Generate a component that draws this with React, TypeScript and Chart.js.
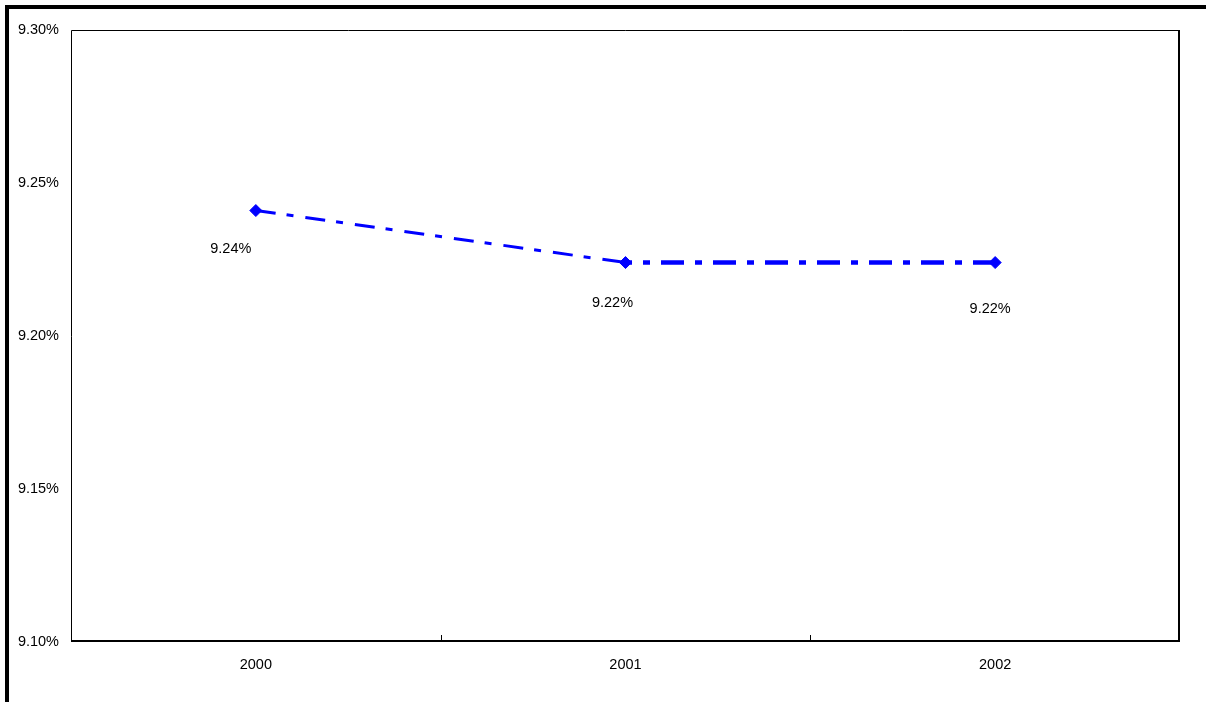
import React, { useEffect, useRef } from "react";
import { Chart, registerables } from "chart.js";

Chart.register(...registerables);

// Yearly rate, in percent
const years = ["2000", "2001", "2002"];
const rates = [9.241, 9.224, 9.224];
const rateLabels = ["9.24%", "9.22%", "9.22%"];
const yTicks = [9.1, 9.15, 9.2, 9.25, 9.3];

// Where each value label sits relative to its marker (px)
const labelOffsets = [
  [-25, 38],
  [-13, 40],
  [-5, 46],
];

const FONT = "'Liberation Sans', Arial, sans-serif";

const framePlugin = {
  id: "frame",
  beforeDraw(chart: any) {
    const { ctx, width, height } = chart;
    ctx.save();
    ctx.fillStyle = "#fff";
    ctx.fillRect(0, 0, width, height);
    ctx.fillStyle = "#000";
    // outer frame, top and left edges
    ctx.fillRect(5, 5, width - 5, 4);
    ctx.fillRect(5, 5, 4, height - 5);
    ctx.restore();
  },
  afterDatasetsDraw(chart: any) {
    const { ctx, chartArea } = chart;
    const { left, top, right, bottom } = chartArea;
    const xScale = chart.scales.x;
    ctx.save();
    ctx.strokeStyle = "#000";
    ctx.lineWidth = 1;
    ctx.beginPath();
    ctx.moveTo(left + 0.5, bottom);
    ctx.lineTo(left + 0.5, top + 0.5);
    ctx.lineTo(right, top + 0.5);
    ctx.stroke();
    ctx.lineWidth = 2;
    ctx.beginPath();
    ctx.moveTo(right - 1, top);
    ctx.lineTo(right - 1, bottom - 1);
    ctx.lineTo(left, bottom - 1);
    ctx.stroke();
    // category boundary ticks along the bottom axis
    ctx.lineWidth = 1;
    for (let i = 1; i < years.length; i++) {
      const x = Math.round((xScale.getPixelForValue(i - 1) + xScale.getPixelForValue(i)) / 2) + 0.5;
      ctx.beginPath();
      ctx.moveTo(x, bottom - 1);
      ctx.lineTo(x, bottom - 7);
      ctx.stroke();
    }
    // value labels
    const meta = chart.getDatasetMeta(0);
    ctx.fillStyle = "#000";
    ctx.font = `14.5px ${FONT}`;
    ctx.textAlign = "center";
    ctx.textBaseline = "middle";
    meta.data.forEach((pt: any, i: number) => {
      const [dx, dy] = labelOffsets[i];
      ctx.fillText(rateLabels[i], pt.x + dx, pt.y + dy);
    });
    ctx.restore();
  },
};

export default function App() {
  const canvasRef = useRef<HTMLCanvasElement>(null);

  useEffect(() => {
    document.body.style.margin = "0";
    const canvas = canvasRef.current;
    if (!canvas) return;
    const chart = new Chart(canvas, {
      type: "line",
      data: {
        labels: years,
        datasets: [
          {
            data: rates,
            borderColor: "#0000ff",
            backgroundColor: "#0000ff",
            borderWidth: 3,
            borderDash: [20, 11, 7, 12],
            pointStyle: "rectRot",
            pointRadius: 6,
            pointBorderWidth: 1,
            pointBackgroundColor: "#0000ff",
            pointBorderColor: "#0000ff",
            tension: 0,
            segment: {
              borderWidth: (c: any) => (c.p0DataIndex === 0 ? 3 : 4.5),
              borderDash: (c: any) => (c.p0DataIndex === 0 ? [20, 11, 7, 12] : [23, 11, 7, 11]),
              borderDashOffset: (c: any) => (c.p0DataIndex === 0 ? 0 : 16.5),
            },
          },
        ],
      },
      options: {
        animation: false,
        responsive: false,
        maintainAspectRatio: false,
        layout: { padding: { left: 0, top: 30, right: 26, bottom: 0 } },
        plugins: {
          legend: { display: false },
          tooltip: { enabled: false },
        },
        scales: {
          x: {
            type: "category",
            offset: true,
            grid: { display: false, drawTicks: false },
            border: { display: false },
            ticks: {
              color: "#000",
              font: { family: FONT, size: 14.5 },
              padding: 14,
              maxRotation: 0,
            },
            afterFit: (s: any) => {
              s.height = 60;
            },
          },
          y: {
            min: 9.1,
            max: 9.3,
            grid: { display: false, drawTicks: false },
            border: { display: false },
            afterBuildTicks: (s: any) => {
              s.ticks = yTicks.map((v) => ({ value: v }));
            },
            ticks: {
              color: "#000",
              font: { family: FONT, size: 14.5 },
              padding: 12,
              callback: (v: any) => Number(v).toFixed(2) + "%",
            },
            afterFit: (s: any) => {
              s.width = 71;
            },
          },
        },
      },
      plugins: [framePlugin],
    });
    return () => chart.destroy();
  }, []);

  return (
    <div style={{ width: 1206, height: 702, position: "relative", background: "#fff" }}>
      <canvas ref={canvasRef} width={1206} height={702} style={{ display: "block" }} />
    </div>
  );
}
